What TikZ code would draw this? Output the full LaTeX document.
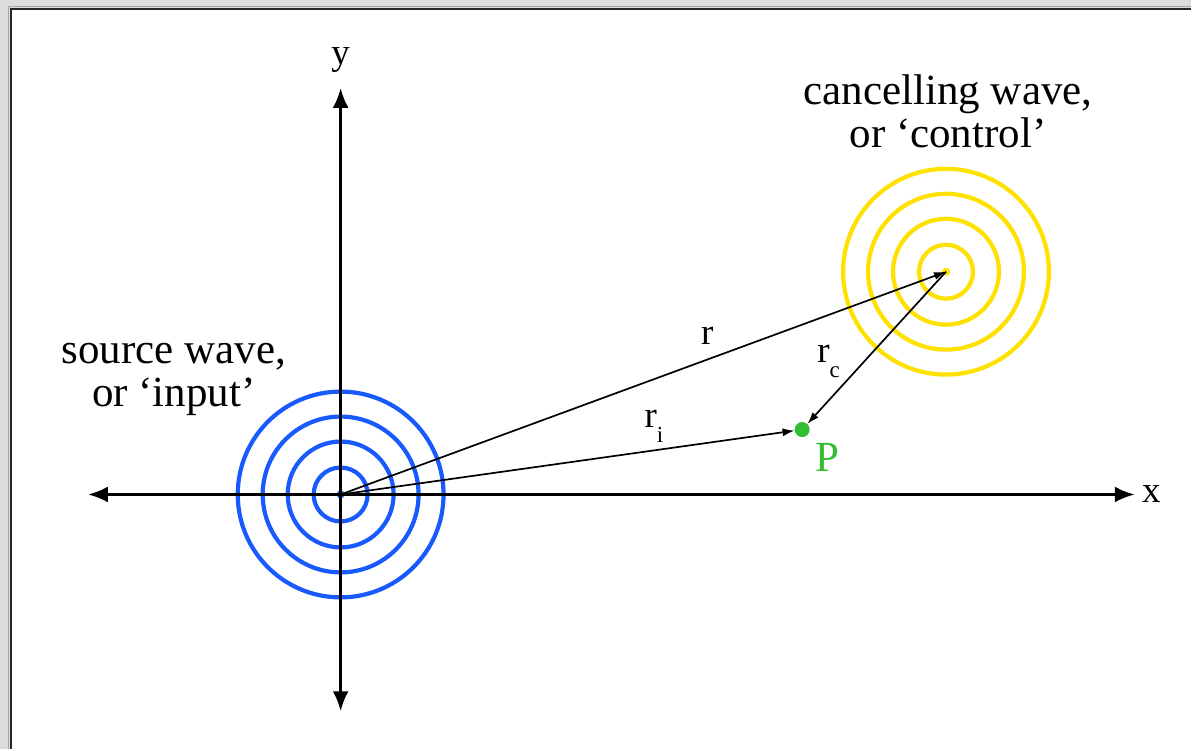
\documentclass[tikz,border=0pt]{standalone}
\usepackage{fontspec}
\setmainfont{Liberation Serif}
\usetikzlibrary{arrows.meta}
\definecolor{wavblue}{RGB}{25,90,255}
\definecolor{wavyellow}{RGB}{255,225,0}
\definecolor{ptgreen}{RGB}{50,190,50}
\definecolor{pagegray}{RGB}{220,220,220}
\newcommand{\lowsub}[1]{\raisebox{-15pt}{\fontsize{23}{23}\selectfont #1}}
\tikzset{
  axis/.style={line width=3pt, {Latex[length=20pt,width=16pt]}-{Latex[length=20pt,width=16pt]}},
  vec/.style={line width=1.7pt, -{Latex[length=12pt,width=8pt]}},
  ring/.style={line width=4.2pt},
  lbl/.style={font=\fontsize{43}{43}\selectfont, align=center},
  sym/.style={font=\fontsize{37}{37}\selectfont, inner sep=0pt},
}
\begin{document}
\begin{tikzpicture}[x=1pt,y=-1pt]
  % page and panel
  \fill[pagegray] (0,0) rectangle (1192,750);
  \fill[white] (11,9) rectangle (1192,750);
  \draw[gray!70, line width=1pt] (9,750) -- (9,7) -- (1192,7);
  \draw[black!85, line width=2.5pt] (11,750) -- (11,9) -- (1192,9);

  \coordinate (src) at (341,495);
  \coordinate (ctl) at (947,272);

  % waves
  \foreach \r in {27,53,78,103} {
    \draw[ring, wavblue] (src) circle (\r pt);
    \draw[ring, wavyellow] (ctl) circle (\r pt);
  }
  \fill[wavblue] (src) circle (4pt);
  \fill[wavyellow] (ctl) circle (4pt);

  % axes
  \coordinate (xl) at (88,495);
  \coordinate (xr) at (1136,495);
  \coordinate (yt) at (341,88);
  \coordinate (yb) at (341,712);
  \draw[axis] (xl) -- (xr);
  \draw[axis] (yb) -- (yt);
  \node[sym, anchor=west] (xlbl) at (1143,495) {x};
  \node[sym] (ylbl) at (341,60) {y};

  % point P and distances
  \node[circle, fill=ptgreen, inner sep=0pt, minimum size=15pt] (P) at (803,430) {};
  \node[font=\fontsize{43}{43}\selectfont, text=ptgreen, anchor=base] (Plbl) at (828,472) {P};
  \draw[vec] (src) -- (ctl);
  \draw[vec] (src) -- (P);
  \draw[vec] (ctl) -- (P);
  \node[sym, anchor=base] (rlbl) at (708,345) {r};
  \node[sym, anchor=base west] (rclbl) at (818,363) {r\lowsub{c}};
  \node[sym, anchor=base west] (rilbl) at (645,428) {r\lowsub{i}};

  % captions
  \node[lbl] (srclbl) at (174,380) {source wave,\\or ‘input’};
  \node[lbl] (ctllbl) at (949,111) {cancelling wave,\\or ‘control’};
\end{tikzpicture}
\end{document}
